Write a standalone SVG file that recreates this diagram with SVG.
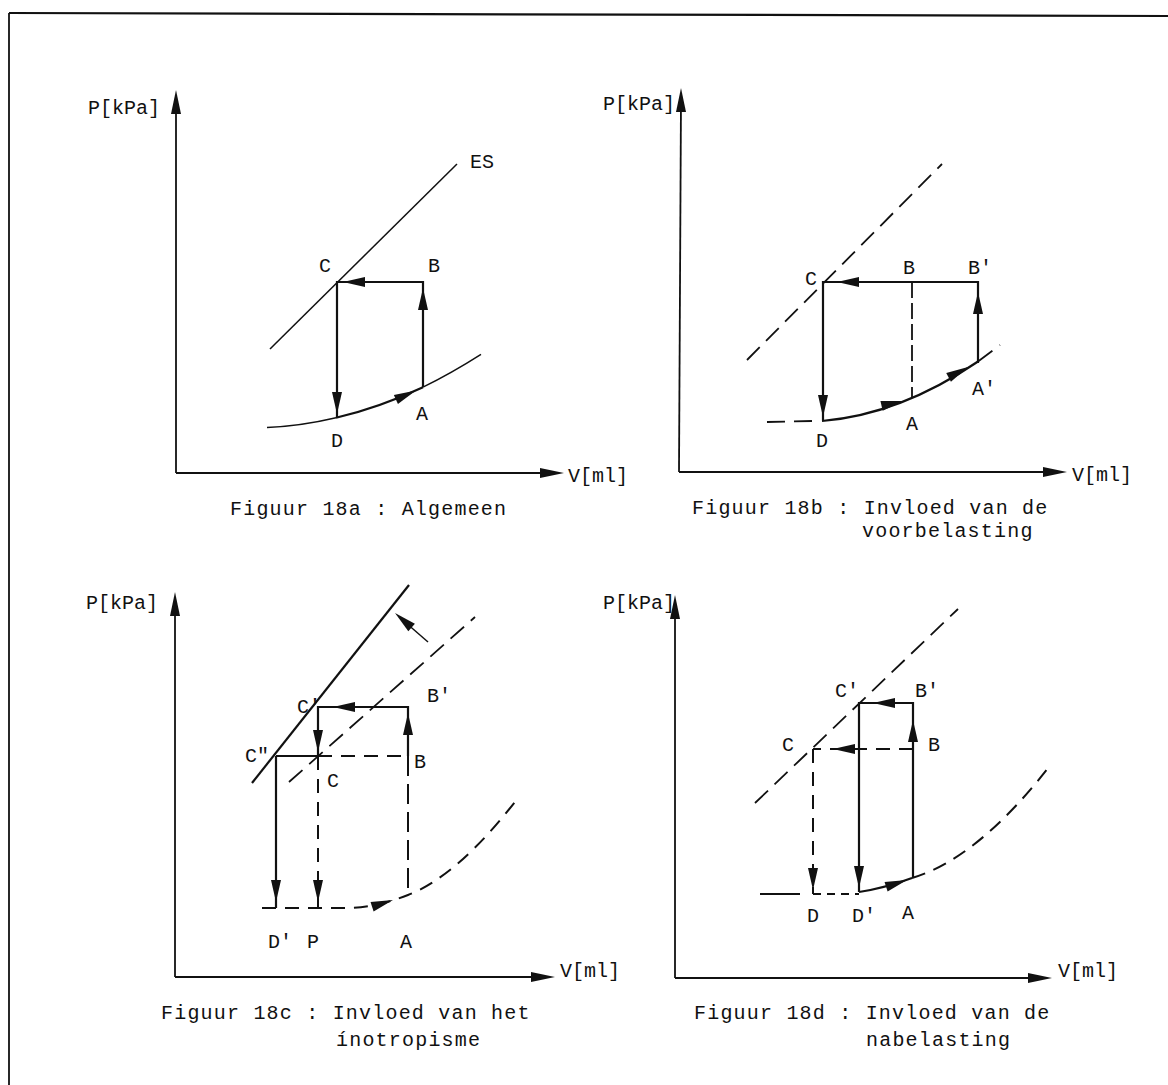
<svg xmlns="http://www.w3.org/2000/svg" xmlns:xlink="http://www.w3.org/1999/xlink" width="1168" height="1085" viewBox="0 0 1168 1085">
<style>
.ln{stroke:#111;fill:none;stroke-width:2.2}
.ax{stroke:#111;fill:none;stroke-width:1.8}
.th{stroke:#111;fill:none;stroke-width:1.5}
.ds{stroke:#111;fill:none;stroke-width:1.8;stroke-dasharray:18 9}
.ds2{stroke:#111;fill:none;stroke-width:2;stroke-dasharray:14 9}
.t{font-family:"Liberation Mono","DejaVu Sans Mono",monospace;font-size:20px;fill:#111}
.cap{font-family:"Liberation Mono","DejaVu Sans Mono",monospace;font-size:20px;fill:#111;letter-spacing:1.2px}
</style>
<defs>
<path id="ah" d="M0,0 L-22,-5 L-22,5 Z" fill="#111"/>
<path id="ax" d="M0,0 L-24,-5 L-24,5 Z" fill="#111"/>
</defs>
<g id="frame">
<line class="ln" x1="9" y1="13" x2="1168" y2="16"/>
<line class="ax" x1="9" y1="13" x2="9" y2="1085"/>
</g>

<g id="fig18a">
<g id="a-axes">
<line class="ax" x1="176" y1="473" x2="176" y2="100"/>
<use xlink:href="#ax" transform="translate(176,90) rotate(-90)"/>
<line class="ax" x1="176" y1="473" x2="552" y2="473"/>
<use xlink:href="#ax" transform="translate(564,473)"/>
<text class="t" x="88" y="114">P[kPa]</text>
<text class="t" x="568" y="482">V[ml]</text>
</g>
<g id="a-curves">
<line class="th" x1="270" y1="349" x2="457" y2="164"/>
<path class="th" d="M267,427.6 Q301.5,426 336,417.8"/>
<path class="th" d="M423,387.2 Q451.5,373.2 481,354.4"/>
</g>
<g id="a-cycle">
<path class="ln" d="M423,387 L423,282 L337,282 L337,418"/>
<use xlink:href="#ah" transform="translate(343,282) rotate(180)"/>
<use xlink:href="#ah" transform="translate(423,288) rotate(-90)"/>
<use xlink:href="#ah" transform="translate(337,414) rotate(90)"/>
<path class="ln" d="M336,417.8 Q379,407.6 423,387.2"/>
<use xlink:href="#ah" transform="translate(416,390.5) rotate(-24)"/>
</g>
<g id="a-labels">
<text class="t" x="470" y="168">ES</text>
<text class="t" x="325" y="272" text-anchor="middle">C</text>
<text class="t" x="434" y="272" text-anchor="middle">B</text>
<text class="t" x="422" y="420" text-anchor="middle">A</text>
<text class="t" x="337" y="447" text-anchor="middle">D</text>
<text class="cap" x="230" y="515">Figuur 18a : Algemeen</text>
</g>
</g>

<g id="fig18b">
<g id="b-axes">
<line class="ax" x1="679" y1="472" x2="681" y2="98"/>
<use xlink:href="#ax" transform="translate(681,88) rotate(-90)"/>
<line class="ax" x1="679" y1="472" x2="1055" y2="472"/>
<use xlink:href="#ax" transform="translate(1067,472)"/>
<text class="t" x="603" y="110">P[kPa]</text>
<text class="t" x="1072" y="481">V[ml]</text>
</g>
<g id="b-curves">
<line class="ds" x1="747" y1="360" x2="942" y2="164"/>
<line class="ds" x1="767" y1="422" x2="812" y2="421"/>
<path class="ln" d="M822,421 Q900,414.5 978,361.5"/>
<line class="ds" x1="978" y1="361.5" x2="1000" y2="345"/>
<line class="ds" x1="912" y1="282" x2="912" y2="398" style="stroke-dasharray:16 5"/>
</g>
<g id="b-cycle">
<path class="ln" d="M978,363 L978,282 L823,282 L823,420"/>
<use xlink:href="#ah" transform="translate(837,282) rotate(180)"/>
<use xlink:href="#ah" transform="translate(978,292) rotate(-90)"/>
<use xlink:href="#ah" transform="translate(823,417) rotate(90)"/>
<use xlink:href="#ah" transform="translate(903,401) rotate(-13)"/>
<use xlink:href="#ah" transform="translate(968,367) rotate(-28)"/>
</g>
<g id="b-labels">
<text class="t" x="811" y="285" text-anchor="middle">C</text>
<text class="t" x="909" y="274" text-anchor="middle">B</text>
<text class="t" x="968" y="274">B'</text>
<text class="t" x="972" y="395">A'</text>
<text class="t" x="912" y="430" text-anchor="middle">A</text>
<text class="t" x="822" y="447" text-anchor="middle">D</text>
<text class="cap" x="692" y="514">Figuur 18b : Invloed van de</text>
<text class="cap" x="862" y="537">voorbelasting</text>
</g>
</g>

<g id="fig18c">
<g id="c-axes">
<line class="ax" x1="175" y1="977" x2="175" y2="602"/>
<use xlink:href="#ax" transform="translate(175,592) rotate(-90)"/>
<line class="ax" x1="175" y1="977" x2="543" y2="977"/>
<use xlink:href="#ax" transform="translate(555,977)"/>
<text class="t" x="86" y="609">P[kPa]</text>
<text class="t" x="560" y="977">V[ml]</text>
</g>
<g id="c-curves">
<line class="ln" x1="252" y1="783" x2="409" y2="585"/>
<line class="ds" x1="289" y1="782" x2="475" y2="617"/>
<line class="th" x1="428" y1="642" x2="405" y2="622"/>
<use xlink:href="#ah" transform="translate(395,613) rotate(-139)"/>
<path class="ds2" d="M262,908 L345,908 Q375,908 408,895 Q458.6,875.3 518,798"/>
</g>
<g id="c-cycle">
<path class="ln" d="M408,756 L408,707 L318,707 L318,756"/>
<use xlink:href="#ah" transform="translate(333,707) rotate(180)"/>
<use xlink:href="#ah" transform="translate(408,713) rotate(-90)"/>
<use xlink:href="#ah" transform="translate(318,752) rotate(90)"/>
<line class="ln" x1="276" y1="756" x2="318" y2="756"/>
<line class="ds2" x1="318" y1="756" x2="408" y2="756"/>
<line class="ln" x1="276" y1="756" x2="276" y2="908"/>
<use xlink:href="#ah" transform="translate(276,902) rotate(90)"/>
<line class="ds2" x1="318" y1="756" x2="318" y2="908"/>
<use xlink:href="#ah" transform="translate(318,902) rotate(90)"/>
<line class="ds2" x1="408" y1="756" x2="408" y2="895" style="stroke-dasharray:20 8"/>
<use xlink:href="#ah" transform="translate(393,900) rotate(-18)"/>
</g>
<g id="c-labels">
<text class="t" x="297" y="713">C'</text>
<text class="t" x="245" y="762">C"</text>
<text class="t" x="327" y="787">C</text>
<text class="t" x="427" y="702">B'</text>
<text class="t" x="414" y="768">B</text>
<text class="t" x="268" y="948">D'</text>
<text class="t" x="313" y="948" text-anchor="middle">P</text>
<text class="t" x="406" y="948" text-anchor="middle">A</text>
<text class="cap" x="161" y="1019">Figuur 18c : Invloed van het</text>
<text class="cap" x="336" y="1046">ínotropisme</text>
</g>
</g>

<g id="fig18d">
<g id="d-axes">
<line class="ax" x1="675" y1="978" x2="675" y2="605"/>
<use xlink:href="#ax" transform="translate(675,595) rotate(-90)"/>
<line class="ax" x1="675" y1="978" x2="1040" y2="978"/>
<use xlink:href="#ax" transform="translate(1052,978)"/>
<text class="t" x="603" y="609">P[kPa]</text>
<text class="t" x="1058" y="977">V[ml]</text>
</g>
<g id="d-curves">
<line class="ds" x1="755" y1="803" x2="958" y2="609"/>
<line class="ln" x1="760" y1="894" x2="800" y2="894"/>
<line class="ds2" x1="813" y1="894" x2="859" y2="894" style="stroke-dasharray:8 6"/>
<path class="ln" d="M859,892 Q885,888 912,878"/>
<path class="ds2" d="M912,878 Q979,858 1052,763"/>
</g>
<g id="d-cycle">
<path class="ln" d="M913,878 L913,703 L859,703 L859,892"/>
<use xlink:href="#ah" transform="translate(873,703) rotate(180)"/>
<use xlink:href="#ah" transform="translate(913,720) rotate(-90)"/>
<use xlink:href="#ah" transform="translate(859,888) rotate(90)"/>
<line class="ds2" x1="913" y1="749" x2="813" y2="749"/>
<use xlink:href="#ah" transform="translate(833,749) rotate(180)"/>
<line class="ds2" x1="813" y1="749" x2="813" y2="894"/>
<use xlink:href="#ah" transform="translate(813,890) rotate(90)"/>
<use xlink:href="#ah" transform="translate(907,880) rotate(-18)"/>
</g>
<g id="d-labels">
<text class="t" x="835" y="697">C'</text>
<text class="t" x="915" y="697">B'</text>
<text class="t" x="782" y="751">C</text>
<text class="t" x="928" y="751">B</text>
<text class="t" x="813" y="922" text-anchor="middle">D</text>
<text class="t" x="852" y="922">D'</text>
<text class="t" x="908" y="919" text-anchor="middle">A</text>
<text class="cap" x="694" y="1019">Figuur 18d : Invloed van de</text>
<text class="cap" x="866" y="1046">nabelasting</text>
</g>
</g>
</svg>
